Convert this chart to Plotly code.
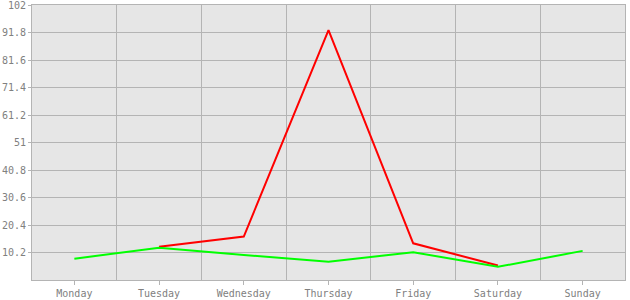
import plotly.graph_objects as go

days = ["Monday", "Tuesday", "Wednesday", "Thursday", "Friday", "Saturday", "Sunday"]
red_values = [None, 12.3, 16.1, 92.7, 13.6, 5.4, None]
green_values = [7.9, 12.0, 9.3, 6.8, 10.3, 4.9, 10.8]
y_ticks = [10.2, 20.4, 30.6, 40.8, 51, 61.2, 71.4, 81.6, 91.8, 102]
y_tick_text = ["10.2", "20.4", "30.6", "40.8", "51", "61.2", "71.4", "81.6", "91.8", "102"]

x = list(range(len(days)))
boundaries = [i - 0.5 for i in range(len(days) + 1)]

fig = go.Figure()
fig.add_trace(go.Scatter(x=x, y=red_values, mode="lines",
                         line=dict(color="#ff0000", width=2), connectgaps=False))
fig.add_trace(go.Scatter(x=x, y=green_values, mode="lines",
                         line=dict(color="#00ff00", width=2)))

font = dict(family="DejaVu Sans Mono", size=10, color="#808080")
fig.update_layout(
    width=630, height=300,
    margin=dict(l=32, r=5, t=5, b=20),
    paper_bgcolor="#ffffff", plot_bgcolor="#e6e6e6",
    showlegend=False, font=font,
)
fig.update_xaxes(
    range=[-0.5, len(days) - 0.5], tickvals=x, ticktext=days,
    showgrid=False, zeroline=False, automargin=False,
    ticks="outside", ticklen=4, tickcolor="#b4b4b4", tickfont=font,
    showline=True, mirror=True, linecolor="#b4b4b4", linewidth=1,
    minor=dict(tickvals=boundaries, showgrid=True, gridcolor="#b4b4b4", gridwidth=1, ticks=""),
)
fig.update_yaxes(
    range=[0, 102.01], tickvals=y_ticks, ticktext=y_tick_text,
    showgrid=True, gridcolor="#b4b4b4", gridwidth=1, zeroline=False, automargin=False,
    ticklabeloverflow="allow",
    ticks="outside", ticklen=3, tickcolor="#b4b4b4", tickfont=font,
    showline=True, mirror=True, linecolor="#b4b4b4", linewidth=1,
)
fig.write_html("out.html")
